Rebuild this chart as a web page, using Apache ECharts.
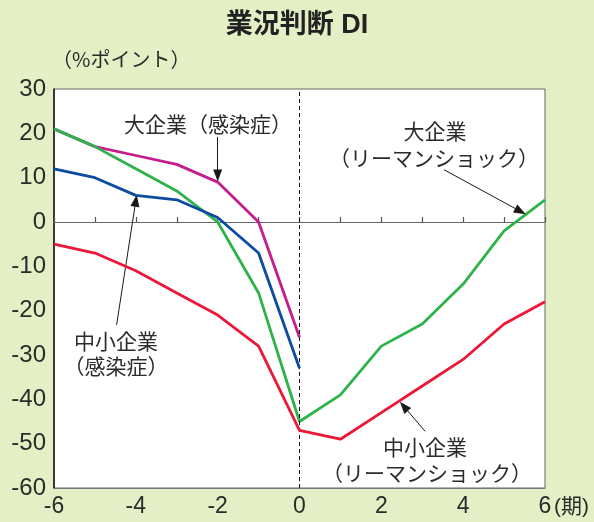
<!DOCTYPE html>
<html>
<head>
<meta charset="utf-8">
<script src="https://cdn.jsdelivr.net/npm/echarts@6/dist/echarts.min.js"></script>
<style>
html,body{margin:0;padding:0;background:#e5efc5;}
#c{width:594px;height:522px;}
</style>
</head>
<body>
<div id="c"></div>
<script>
const periods = [-6,-5,-4,-3,-2,-1,0,1,2,3,4,5,6];
const largeCovid   = [21,17,15,13,9,0,-26];
const smallCovid   = [12,10,6,5,1,-7,-33];
const largeLehman  = [21,17,12,7,0,-16,-45,-39,-28,-23,-14,-2,5];
const smallLehman  = [-5,-7,-11,-16,-21,-28,-47,-49,-43,-37,-31,-23,-18];
const yTicks = [30,20,10,0,-10,-20,-30,-40,-50,-60];
const xTickLabels = [-6,-4,-2,0,2,4,6];

function pairs(vals){ return vals.map((v,i)=>[periods[i], v]); }

const numFont = 'Liberation Sans, Arial, Helvetica, sans-serif';
const jpFont = 'Noto Sans CJK JP, sans-serif';
const mixFont = 'Liberation Sans, Noto Sans CJK JP, sans-serif';
const txt = '#2b2b2b';

function arrowLine(from, to){
  return [{coord: from, symbol:'none'}, {coord: to, symbol:'triangle', symbolSize:[9,12]}];
}

const chart = echarts.init(document.getElementById('c'), null, {renderer:'canvas'});
chart.setOption({
  backgroundColor:'#e5efc5',
  animation:false,
  grid:{left:54,right:49,top:89,bottom:34,show:true,backgroundColor:'#ffffff',borderColor:'#666',borderWidth:1},
  xAxis:[
    {type:'value',min:-6,max:6,interval:2,position:'bottom',
     axisLine:{onZero:false,show:true,lineStyle:{color:'#777',width:1}},
     axisTick:{show:false},splitLine:{show:false},
     axisLabel:{color:txt,fontSize:23,fontFamily:numFont,margin:7,
       formatter:v=> xTickLabels.indexOf(v)>=0 ? String(v) : ''}},
    {type:'value',min:-6,max:6,interval:1,position:'bottom',
     axisLine:{onZero:true,show:true,lineStyle:{color:'#666',width:1.2}},
     axisTick:{show:true,inside:true,length:5,lineStyle:{color:'#555',width:1.2}},
     axisLabel:{show:false},splitLine:{show:false}}
  ],
  yAxis:{type:'value',min:-60,max:30,interval:10,
     axisLine:{show:true,onZero:false,lineStyle:{color:'#111',width:1.5}},
     axisTick:{show:false},splitLine:{show:false},
     axisLabel:{color:txt,fontSize:24,fontFamily:numFont,margin:8,
       formatter:v=> yTicks.indexOf(v)>=0 ? String(v) : ''}},
  series:[
    {name:'大企業（感染症）',type:'line',xAxisIndex:0,data:pairs(largeCovid),symbol:'none',
     lineStyle:{color:'#c41e8c',width:2.8},z:3,
     markLine:{silent:true,symbol:['none','none'],label:{show:false},
       lineStyle:{color:'#111',width:1,type:[4,3]},
       data:[{xAxis:0}]}},
    {name:'大企業（リーマンショック）',type:'line',xAxisIndex:0,data:pairs(largeLehman),symbol:'none',
     lineStyle:{color:'#2db34a',width:2.8},z:4},
    {name:'中小企業（感染症）',type:'line',xAxisIndex:0,data:pairs(smallCovid),symbol:'none',
     lineStyle:{color:'#0b4ba0',width:2.8},z:5},
    {name:'中小企業（リーマンショック）',type:'line',xAxisIndex:0,data:pairs(smallLehman),symbol:'none',
     lineStyle:{color:'#eb1937',width:2.8},z:5,
     markLine:{silent:true,label:{show:false},
       lineStyle:{color:'#1a1a1a',width:1,type:'solid'},
       data:[
         arrowLine([-2.0,19.2],[-2.0,10.5]),
         arrowLine([-4.47,-23.2],[-4.0,4.8]),
         arrowLine([3.53,11.8],[5.4,2.4]),
         arrowLine([3.07,-47.2],[2.55,-41.6])
       ]}}
  ],
  graphic:[
    {type:'text',left:'center',top:12,style:{text:'業況判断 DI',fontSize:27,fontWeight:'bold',fontFamily:mixFont,fill:'#222'}},
    {type:'text',x:52,y:49,style:{text:'（%ポイント）',fontSize:20,fontFamily:jpFont,fill:txt}},
    {type:'text',x:208,y:124,style:{text:'大企業（感染症）',fontSize:21,fontFamily:jpFont,fill:txt,align:'center',verticalAlign:'middle'}},
    {type:'text',x:116,y:341,style:{text:'中小企業',fontSize:21,fontFamily:jpFont,fill:txt,align:'center',verticalAlign:'middle'}},
    {type:'text',x:116,y:366,style:{text:'（感染症）',fontSize:21,fontFamily:jpFont,fill:txt,align:'center',verticalAlign:'middle'}},
    {type:'text',x:435,y:131,style:{text:'大企業',fontSize:21,fontFamily:jpFont,fill:txt,align:'center',verticalAlign:'middle'}},
    {type:'text',x:434,y:158,style:{text:'（リーマンショック）',fontSize:21,fontFamily:jpFont,fill:txt,align:'center',verticalAlign:'middle'}},
    {type:'text',x:425,y:447,style:{text:'中小企業',fontSize:21,fontFamily:jpFont,fill:txt,align:'center',verticalAlign:'middle'}},
    {type:'text',x:427,y:473,style:{text:'（リーマンショック）',fontSize:21,fontFamily:jpFont,fill:txt,align:'center',verticalAlign:'middle'}},
    {type:'text',x:554,y:507,style:{text:'(期)',fontSize:21,fontFamily:mixFont,fill:txt,verticalAlign:'middle'}}
  ]
});
</script>
</body>
</html>
